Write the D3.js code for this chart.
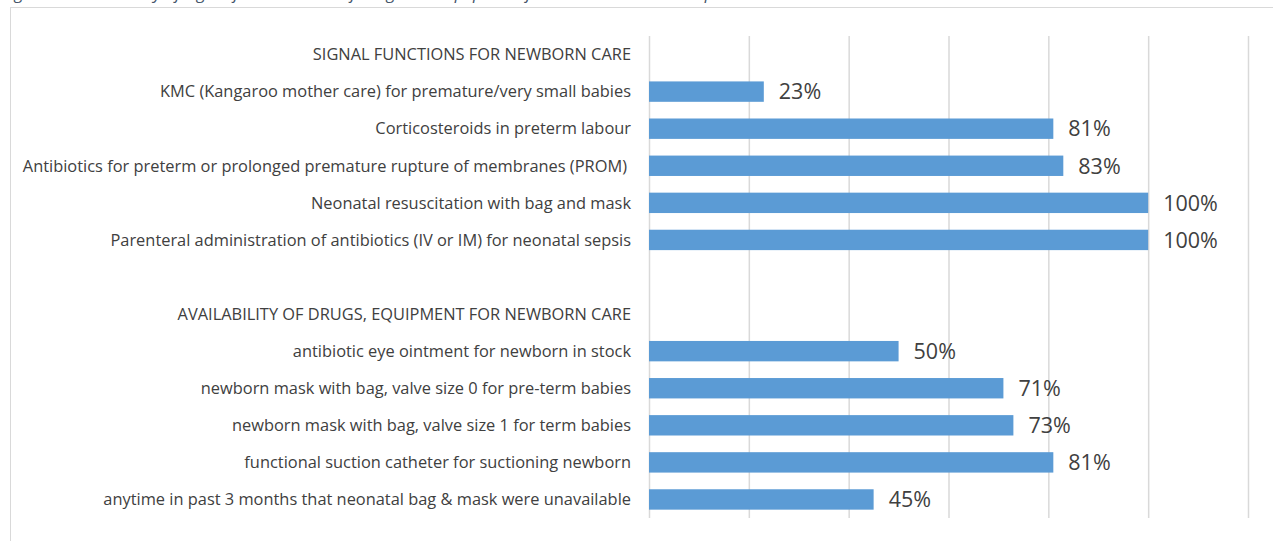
<!DOCTYPE html>
<html><head><meta charset="utf-8">
<script src="https://cdn.jsdelivr.net/npm/d3@7"></script>
<style>body{margin:0;background:#fff;} svg{display:block;}</style>
</head><body>
<svg id="c" width="1273" height="541"></svg>
<script>
const categories = [
  "SIGNAL FUNCTIONS FOR NEWBORN CARE",
  "KMC (Kangaroo mother care) for premature/very small babies",
  "Corticosteroids in preterm labour",
  "Antibiotics for preterm or prolonged premature rupture of membranes (PROM) ",
  "Neonatal resuscitation with bag and mask",
  "Parenteral administration of antibiotics (IV or IM) for neonatal sepsis",
  "",
  "AVAILABILITY OF DRUGS, EQUIPMENT FOR NEWBORN CARE",
  "antibiotic eye ointment for newborn in stock",
  "newborn mask with bag, valve size 0 for pre-term babies",
  "newborn mask with bag, valve size 1 for term babies",
  "functional suction catheter for suctioning newborn",
  "anytime in past 3 months that neonatal bag & mask were unavailable"
];
const values = [null, 23, 81, 83, 100, 100, null, null, 50, 71, 73, 81, 45];
const xTicks = [0, 20, 40, 60, 80, 100, 120];
const titleText = "Figure 10: Availability of signal functions and of drugs and equipment for newborn care in hospitals";

const FONT = "'Open Sans', sans-serif";
const svg = d3.select("#c");
const x = d3.scaleLinear().domain([0, 120]).range([649, 1248]);
const y = d3.scaleBand().domain(d3.range(categories.length)).range([36, 518]).paddingInner(0.45).paddingOuter(0.225);

// title (cut off at top, as in the reference)
svg.append("text").attr("x", 2).attr("y", -1)
  .attr("font-family", FONT).attr("font-style", "italic")
  .attr("font-size", 17).attr("fill", "#44546a").text(titleText);

// frame
svg.append("line").attr("x1", 10).attr("x2", 1273).attr("y1", 7.5).attr("y2", 7.5).attr("stroke", "#d9d9d9");
svg.append("line").attr("x1", 10.5).attr("x2", 10.5).attr("y1", 7).attr("y2", 541).attr("stroke", "#d9d9d9");

// gridlines
svg.append("g").attr("transform", "translate(0,518)")
  .call(d3.axisBottom(x).tickValues(xTicks).tickSize(-482).tickFormat(""))
  .call(g => g.select(".domain").remove())
  .call(g => g.selectAll("line").attr("stroke", "#d9d9d9").attr("stroke-width", 1.5));

// bars
const rows = categories.map((c, i) => ({c, v: values[i], i}));
svg.append("g").selectAll("rect").data(rows.filter(d => d.v != null)).join("rect")
  .attr("x", x(0)).attr("y", d => y(d.i)).attr("width", d => x(d.v) - x(0))
  .attr("height", y.bandwidth()).attr("fill", "#5b9bd5");

// value labels
svg.append("g").selectAll("text").data(rows.filter(d => d.v != null)).join("text")
  .attr("x", d => x(d.v) + 15).attr("y", d => y(d.i) + y.bandwidth() / 2)
  .attr("dy", "0.36em").attr("font-family", FONT)
  .attr("font-size", 21.5).attr("fill", "#404040").text(d => d.v + "%");

// category labels
svg.append("g").selectAll("text").data(rows).join("text")
  .attr("x", d => / $/.test(d.c) ? 627 : 631).attr("y", d => y(d.i) + y.bandwidth() / 2)
  .attr("dy", "0.35em").attr("text-anchor", "end")
  .attr("font-family", FONT)
  .attr("font-size", 16.4).attr("fill", "#404040")
  .text(d => d.c.replace(/ $/, ""));
</script>
</body></html>
